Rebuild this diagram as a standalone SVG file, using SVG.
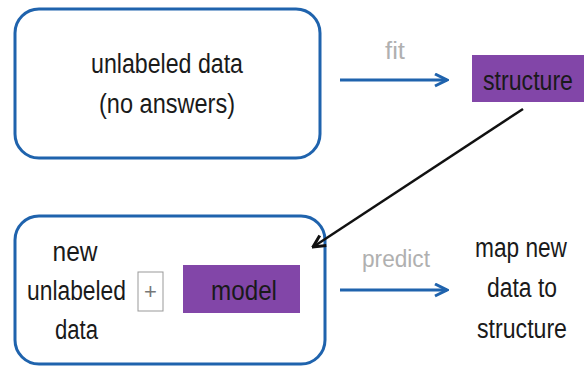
<svg xmlns="http://www.w3.org/2000/svg" width="585" height="366" viewBox="0 0 585 366">
<style>
.box{fill:#fff;stroke:#1f63ad;stroke-width:3}
.t{font-family:"Liberation Sans",Arial,sans-serif;font-size:27px;fill:#1a1a1a;text-anchor:middle}
.lbl{font-family:"Liberation Sans",Arial,sans-serif;font-size:23px;fill:#b0b0b0;text-anchor:middle}
.purple{fill:#8246a8}
</style>
<defs>
<marker id="ab" viewBox="0 0 10 10" refX="9" refY="5" markerWidth="5" markerHeight="5" orient="auto"><path d="M1,1 L9,5 L1,9" fill="none" stroke="#1f63ad" stroke-width="2"/></marker>
<marker id="ak" viewBox="0 0 10 10" refX="9" refY="5" markerWidth="6" markerHeight="6" orient="auto"><path d="M1,1 L9,5 L1,9" fill="none" stroke="#111" stroke-width="2"/></marker>
</defs>
<rect width="585" height="366" fill="#fff"/>
<g id="unlabeled">
<rect class="box" x="15" y="9" width="305" height="149" rx="24"/>
<text class="t" x="167" y="73" textLength="152" lengthAdjust="spacingAndGlyphs">unlabeled data</text>
<text class="t" x="167" y="113" textLength="136" lengthAdjust="spacingAndGlyphs">(no answers)</text>
</g>
<g id="structure">
<rect class="purple" x="472" y="55" width="112" height="47"/>
<text class="t" x="528" y="90" textLength="90" lengthAdjust="spacingAndGlyphs">structure</text>
</g>
<g id="newdata">
<rect class="box" x="15" y="216" width="310" height="148" rx="24"/>
<text class="t" x="75" y="261" textLength="45" lengthAdjust="spacingAndGlyphs">new</text>
<text class="t" x="76.5" y="300" textLength="99" lengthAdjust="spacingAndGlyphs">unlabeled</text>
<text class="t" x="76.5" y="339" textLength="43" lengthAdjust="spacingAndGlyphs">data</text>
<rect x="138" y="272" width="25" height="39" fill="#fff" stroke="#999" stroke-width="1"/>
<text x="150.5" y="299" font-family="Liberation Sans,Arial,sans-serif" font-size="22" fill="#777" text-anchor="middle">+</text>
<rect class="purple" x="183" y="265" width="117" height="48"/>
<text class="t" x="244" y="300" textLength="66" lengthAdjust="spacingAndGlyphs">model</text>
</g>
<g id="result">
<text class="t" x="521" y="257" textLength="92" lengthAdjust="spacingAndGlyphs">map new</text>
<text class="t" x="522" y="297" textLength="70" lengthAdjust="spacingAndGlyphs">data to</text>
<text class="t" x="522" y="338" textLength="90" lengthAdjust="spacingAndGlyphs">structure</text>
</g>
<g id="connectors">
<line x1="340" y1="80" x2="447" y2="80" stroke="#1f63ad" stroke-width="3" marker-end="url(#ab)"/>
<text class="lbl" x="395" y="59" textLength="20" lengthAdjust="spacingAndGlyphs">fit</text>
<line x1="340" y1="290" x2="447" y2="290" stroke="#1f63ad" stroke-width="3" marker-end="url(#ab)"/>
<text class="lbl" x="396" y="267" textLength="68" lengthAdjust="spacingAndGlyphs">predict</text>
<line x1="523" y1="109" x2="313" y2="247" stroke="#111" stroke-width="2.5" marker-end="url(#ak)"/>
</g>
</svg>
